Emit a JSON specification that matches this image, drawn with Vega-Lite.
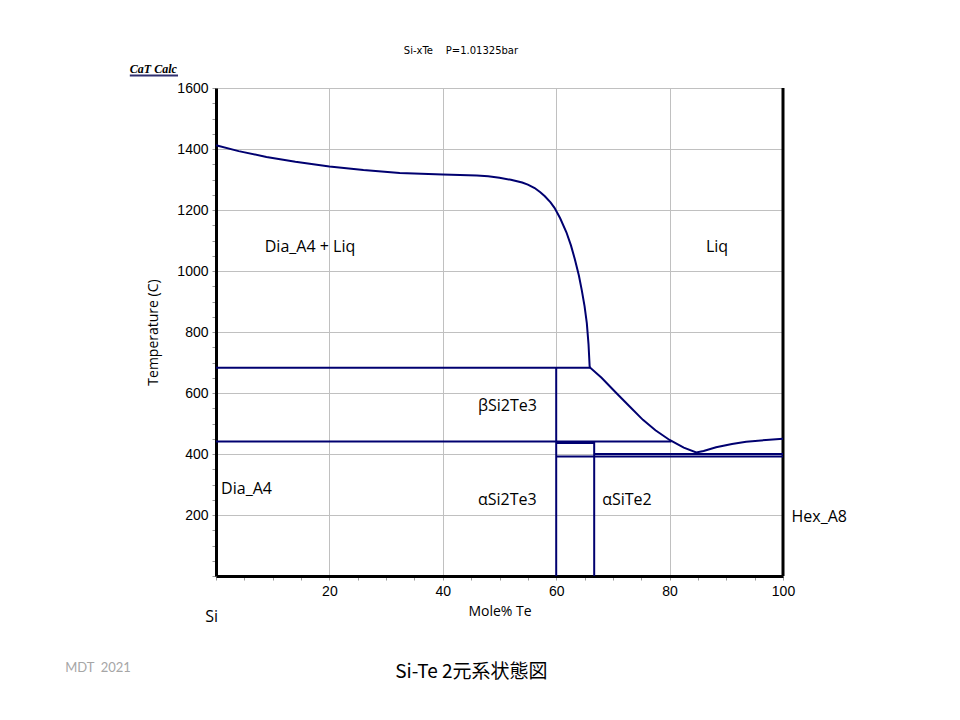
{
  "$schema": "https://vega.github.io/schema/vega-lite/v6.json",
  "autosize": "none",
  "width": 567,
  "height": 488,
  "padding": {"left": 216, "top": 88, "right": 177, "bottom": 144},
  "background": "white",
  "config": {"view": {"stroke": null}},
  "datasets": {
    "curve": [
      {"x": 0, "t": 1412}, {"x": 4, "t": 1393}, {"x": 8.9, "t": 1374}, {"x": 14, "t": 1358},
      {"x": 20, "t": 1343}, {"x": 26, "t": 1331}, {"x": 32.4, "t": 1321}, {"x": 40, "t": 1316},
      {"x": 46, "t": 1313}, {"x": 48, "t": 1311}, {"x": 50, "t": 1306}, {"x": 52, "t": 1299},
      {"x": 54, "t": 1290}, {"x": 55, "t": 1283}, {"x": 56.2, "t": 1272}, {"x": 57.2, "t": 1258},
      {"x": 58, "t": 1245}, {"x": 59, "t": 1225}, {"x": 59.7, "t": 1207}, {"x": 60.7, "t": 1173},
      {"x": 61.8, "t": 1127}, {"x": 62.6, "t": 1084}, {"x": 63.3, "t": 1038}, {"x": 64, "t": 985},
      {"x": 64.5, "t": 938}, {"x": 65, "t": 885}, {"x": 65.4, "t": 829}, {"x": 65.7, "t": 760},
      {"x": 65.9, "t": 687}, {"x": 66, "t": 683},
      {"x": 68, "t": 650}, {"x": 70.6, "t": 600}, {"x": 73, "t": 555}, {"x": 75.3, "t": 512},
      {"x": 77.5, "t": 478}, {"x": 80, "t": 446}, {"x": 82.5, "t": 421}, {"x": 84.7, "t": 405},
      {"x": 86, "t": 410}, {"x": 88.2, "t": 422}, {"x": 91, "t": 433}, {"x": 93.5, "t": 440},
      {"x": 97, "t": 446}, {"x": 100, "t": 450}
    ],
    "segments": [
      {"x": 0, "x2": 66, "t": 683, "t2": 683},
      {"x": 0, "x2": 80.3, "t": 441, "t2": 441},
      {"x": 60, "x2": 66.7, "t": 436, "t2": 436},
      {"x": 66.8, "x2": 100, "t": 400, "t2": 400},
      {"x": 60, "x2": 100, "t": 392, "t2": 392},
      {"x": 60, "x2": 60, "t": 0, "t2": 683},
      {"x": 66.7, "x2": 66.7, "t": 0, "t2": 441}
    ],
    "border": [
      {"x": 100, "x2": 100, "t": 0, "t2": 1600}
    ],
    "regions": [
      {"x": 8.6, "t": 1080, "label": "Dia_A4 + Liq"},
      {"x": 86.4, "t": 1080, "label": "Liq"},
      {"x": 46.2, "t": 559, "label": "βSi2Te3"},
      {"x": 0.9, "t": 285, "label": "Dia_A4"},
      {"x": 46.2, "t": 248, "label": "αSi2Te3"},
      {"x": 68.1, "t": 248, "label": "αSiTe2"},
      {"x": 101.5, "t": 192, "label": "Hex_A8"},
      {"x": -1.9, "t": -133, "label": "Si"}
    ],
    "header": [
      {"x": 43.2, "t": 1720, "label": "Si-xTe\u00a0\u00a0\u00a0\u00a0P=1.01325bar"}
    ],
    "logo": [
      {"x": -15.2, "t": 1661, "label": "CaT Calc"}
    ],
    "logoLine": [
      {"x": -15.2, "x2": -6.7, "t": 1641, "t2": 1641}
    ],
    "credit": [
      {"x": -26.6, "t": -303, "label": "MDT\u00a0\u00a02021"}
    ],
    "caption": [
      {"x": 31.6, "t": -316, "label": "Si-Te 2元系状態図"}
    ]
  },
  "encoding": {
    "x": {
      "field": "x", "type": "quantitative",
      "scale": {"domain": [0, 100], "nice": false, "zero": false},
      "axis": {
        "title": "Mole% Te",
        "titleFont": "Open Sans", "titleFontSize": 14, "titleFontWeight": "normal", "titleColor": "#000",
        "titlePadding": 6,
        "values": [0,5,10,15,20,25,30,35,40,45,50,55,60,65,70,75,80,85,90,95,100],
        "labelExpr": "(datum.value % 20 === 0 && datum.value > 0) ? datum.label : ''",
        "labelFlush": false,
        "labelFont": "Liberation Sans", "labelFontSize": 14, "labelColor": "#000", "labelPadding": 4,
        "domainColor": "#000", "domainWidth": 3,
        "tickColor": "#999", "tickSize": 4, "tickWidth": 1,
        "grid": true, "gridColor": "#c0c0c0", "gridWidth": 1,
        "gridOpacity": {"condition": {"test": "datum.value % 20 === 0 && datum.value > 0 && datum.value < 100", "value": 1}, "value": 0}
      }
    },
    "y": {
      "field": "t", "type": "quantitative",
      "scale": {"domain": [0, 1600], "nice": false, "zero": false},
      "axis": {
        "title": "Temperature (C)",
        "titleFont": "Open Sans", "titleFontSize": 14, "titleFontWeight": "normal", "titleColor": "#000",
        "titlePadding": 16,
        "values": [0,50,100,150,200,250,300,350,400,450,500,550,600,650,700,750,800,850,900,950,1000,1050,1100,1150,1200,1250,1300,1350,1400,1450,1500,1550,1600],
        "labelExpr": "(datum.value % 200 === 0 && datum.value > 0) ? datum.label : ''",
        "labelFlush": false,
        "format": "d",
        "labelFont": "Liberation Sans", "labelFontSize": 14, "labelColor": "#000", "labelPadding": 4,
        "domainColor": "#000", "domainWidth": 3,
        "tickColor": "#999", "tickSize": 4, "tickWidth": 1,
        "grid": true, "gridColor": "#c0c0c0", "gridWidth": 1,
        "gridOpacity": {"condition": {"test": "datum.value % 200 === 0 && datum.value > 0", "value": 1}, "value": 0}
      }
    }
  },
  "layer": [
    {
      "data": {"name": "border"},
      "mark": {"type": "rule", "color": "#000", "strokeWidth": 3},
      "encoding": {"x2": {"field": "x2"}, "y2": {"field": "t2"}}
    },
    {
      "data": {"name": "segments"},
      "mark": {"type": "rule", "color": "#000070", "strokeWidth": 2},
      "encoding": {"x2": {"field": "x2"}, "y2": {"field": "t2"}}
    },
    {
      "data": {"name": "curve"},
      "mark": {"type": "line", "color": "#000070", "strokeWidth": 2},
      "encoding": {}
    },
    {
      "data": {"name": "regions"},
      "mark": {"type": "text", "align": "left", "baseline": "middle", "font": "Open Sans", "fontSize": 16, "color": "#000"},
      "encoding": {"text": {"field": "label"}}
    },
    {
      "data": {"name": "header"},
      "mark": {"type": "text", "align": "center", "baseline": "middle", "font": "DejaVu Sans", "fontSize": 10, "color": "#000"},
      "encoding": {"text": {"field": "label"}}
    },
    {
      "data": {"name": "logo"},
      "mark": {"type": "text", "align": "left", "baseline": "middle", "font": "Liberation Serif", "fontSize": 12, "fontStyle": "italic", "fontWeight": "bold", "color": "#000"},
      "encoding": {"text": {"field": "label"}}
    },
    {
      "data": {"name": "logoLine"},
      "mark": {"type": "rule", "color": "#303070", "strokeWidth": 2},
      "encoding": {"x2": {"field": "x2"}, "y2": {"field": "t2"}}
    },
    {
      "data": {"name": "credit"},
      "mark": {"type": "text", "align": "left", "baseline": "middle", "font": "Lato", "fontSize": 13, "color": "#a6a6a6"},
      "encoding": {"text": {"field": "label"}}
    },
    {
      "data": {"name": "caption"},
      "mark": {"type": "text", "align": "left", "baseline": "middle", "font": "Noto Sans CJK JP", "fontSize": 19, "color": "#000"},
      "encoding": {"text": {"field": "label"}}
    }
  ]
}
